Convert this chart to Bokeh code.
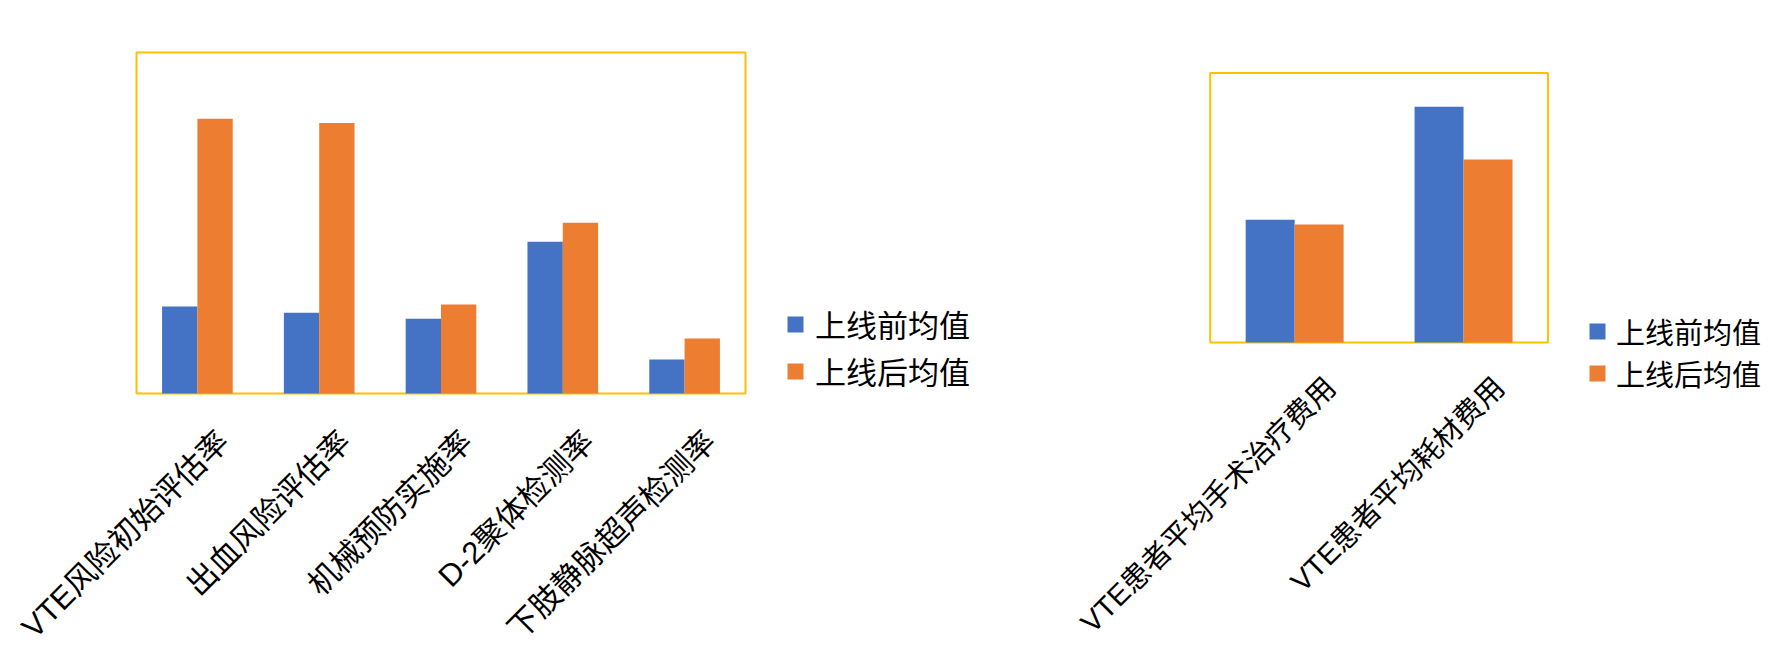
import math
from bokeh.plotting import figure
from bokeh.models import (ColumnDataSource, Range1d, Legend, LegendItem, LabelSet, BoxAnnotation)
from bokeh.transform import dodge
from bokeh.layouts import row
from bokeh.core.properties import value
from bokeh.embed import file_html
from bokeh.resources import INLINE

# ---- data ----
cats1 = ["VTE风险初始评估率", "出血风险评估率", "机械预防实施率", "D-2聚体检测率", "下肢静脉超声检测率"]
before1 = [25.5, 23.7, 21.9, 44.5, 10.0]
after1 = [80.6, 79.3, 26.1, 50.1, 16.1]

cats2 = ["VTE患者平均手术治疗费用", "VTE患者平均耗材费用"]
before2 = [45.6, 87.5]
after2 = [43.8, 67.9]

series = ["上线前均值", "上线后均值"]
YMAX = 100

BLUE = "#4472C4"
ORANGE = "#ED7D31"
GOLD = "#FFC000"
FONT = "'Liberation Sans', 'Noto Sans CJK SC'"
H = 650


def make_chart(cats, before, after, W, box_l, box_r, box_t, box_b, font_px,
               lab_dx, lab_dy, leg_x, leg_y, leg_spacing, standoff):
    n = len(cats)
    # plot-area box (in pixels) -> data ranges so that categories fill the box
    ux = (box_r - box_l) / n
    uy = (box_b - box_t) / YMAX
    x_range = Range1d(-box_l / ux, (W - box_l) / ux)
    y_range = Range1d(-(H - box_b) / uy, YMAX + box_t / uy)

    src = ColumnDataSource(dict(cat=cats, x=[i + 0.5 for i in range(n)],
                                before=before, after=after))
    p = figure(x_range=x_range, y_range=y_range, width=W, height=H,
               output_backend="svg", toolbar_location=None, title=None,
               min_border=0)
    p.axis.visible = False
    p.grid.visible = False
    p.outline_line_color = None
    p.background_fill_color = "white"
    p.border_fill_color = "white"

    box = BoxAnnotation(left=0, right=n, bottom=0, top=YMAX, fill_color=None,
                        fill_alpha=0, line_color=GOLD, line_alpha=1.0, line_width=2,
                        level="underlay")
    p.add_layout(box)

    r1 = p.vbar(x=dodge("x", -0.145), top="before", width=0.29,
                source=src, fill_color=BLUE, line_color=None)
    r2 = p.vbar(x=dodge("x", 0.145), top="after", width=0.29,
                source=src, fill_color=ORANGE, line_color=None)

    labels = LabelSet(x="x", y=0, text="cat", source=src, angle=math.pi / 4,
                      text_align="right", text_baseline="middle",
                      x_offset=lab_dx, y_offset=-lab_dy,
                      text_font=value(FONT), text_font_size=f"{font_px}px",
                      text_color="black")
    p.add_layout(labels)

    legend = Legend(items=[LegendItem(label=series[0], renderers=[r1]),
                           LegendItem(label=series[1], renderers=[r2])],
                    location=(leg_x, leg_y), orientation="vertical",
                    glyph_width=20, glyph_height=20, label_standoff=standoff,
                    spacing=leg_spacing, padding=0, margin=0,
                    border_line_color=None, background_fill_alpha=0,
                    label_text_font=FONT, label_text_font_size=f"{font_px}px",
                    label_text_color="black")
    p.add_layout(legend)
    return p


p1 = make_chart(cats1, before1, after1, W=1000, box_l=136, box_r=745, box_t=52, box_b=393,
                font_px=31, lab_dx=26, lab_dy=43,
                leg_x=785, leg_y=257, leg_spacing=2, standoff=10)
p2 = make_chart(cats2, before2, after2, W=775, box_l=209.7, box_r=547.5, box_t=72.6, box_b=342,
                font_px=29, lab_dx=36, lab_dy=40,
                leg_x=587, leg_y=256, leg_spacing=0, standoff=9)

layout = row(p1, p2)
open("out.html", "w").write(file_html(layout, INLINE))
